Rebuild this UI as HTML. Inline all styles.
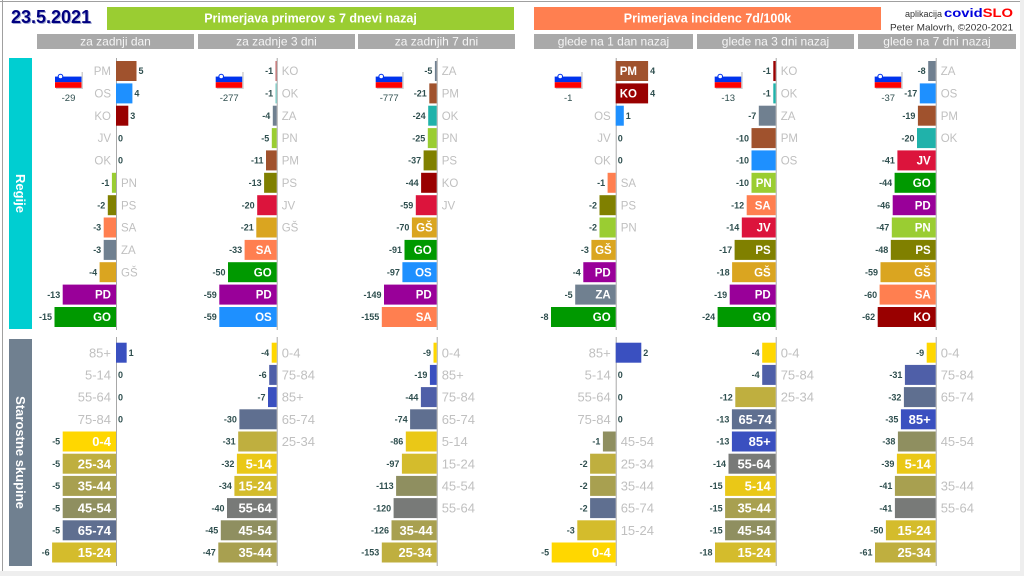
<!DOCTYPE html>
<html><head><meta charset="utf-8">
<style>
html,body{margin:0;padding:0;background:#fff;}
svg{display:block;font-family:"Liberation Sans",sans-serif;}
.v{font-size:9px;font-weight:bold;fill:#2F4F4F}
.g{font-size:11.5px;fill:#C0C0C0}
.w{font-size:11.5px;font-weight:bold;fill:#fff}
.ag{font-size:13px;fill:#C0C0C0}
.aw{font-size:13px;font-weight:bold;fill:#fff}
.e{text-anchor:end}
.t{font-size:9.5px;fill:#2F4F4F;text-anchor:middle}
.ax{stroke:#A8A8A8;stroke-width:1}
</style></head>
<body>
<svg width="1024" height="576" viewBox="0 0 1024 576" xmlns="http://www.w3.org/2000/svg">
<defs>
<g id="flag">
<rect x="-60" y="72" width="27" height="17" fill="#d0d0d0"/>
<rect x="-61" y="71" width="26.5" height="5.6" fill="#fff"/>
<rect x="-61" y="76.6" width="26.5" height="5.6" fill="#0033EE"/>
<rect x="-61" y="82.2" width="26.5" height="5.6" fill="#FF0000"/>
<circle cx="-55.5" cy="76.5" r="2.3" fill="#fff" stroke="#0033EE" stroke-width="1"/>
</g>
</defs>
<rect x="0" y="0" width="1024" height="576" fill="#fff"/>
<!-- borders -->
<rect x="1020" y="0" width="4" height="576" fill="#EEEEEE"/>
<rect x="0" y="571" width="1024" height="5" fill="#EEEEEE"/>
<line x1="0" y1="1.5" x2="1020" y2="1.5" stroke="#A0A0A0"/>
<line x1="2.5" y1="0" x2="2.5" y2="571" stroke="#A0A0A0"/>

<!-- header -->
<text x="12" y="24" font-size="18" font-weight="bold" fill="#A0A8D0">23.5.2021</text>
<text x="11" y="23" font-size="18" font-weight="bold" fill="#000080">23.5.2021</text>
<rect x="107" y="7" width="407" height="23" fill="#9ACD32"/>
<text x="310.5" y="22.5" font-size="12.5" font-weight="bold" fill="#fff" text-anchor="middle">Primerjava primerov s 7 dnevi nazaj</text>
<rect x="534" y="7" width="347" height="23" fill="#FF7F50"/>
<text x="707.5" y="22.5" font-size="12.5" font-weight="bold" fill="#fff" text-anchor="middle">Primerjava incidenc 7d/100k</text>
<text x="942" y="17" font-size="9" fill="#333" text-anchor="end">aplikacija</text>
<text x="944" y="17" font-size="12" font-weight="bold" textLength="69" lengthAdjust="spacingAndGlyphs"><tspan fill="#0000DD">covid</tspan><tspan fill="#FF0000">SLO</tspan></text>
<text x="890" y="30.5" font-size="9.5" fill="#333" textLength="123" lengthAdjust="spacingAndGlyphs">Peter Malovrh, ©2020-2021</text>

<rect x="37" y="34" width="157" height="15" fill="#A9A9A9"/>
<rect x="198" y="34" width="157" height="15" fill="#A9A9A9"/>
<rect x="358" y="34" width="157" height="15" fill="#A9A9A9"/>
<rect x="534" y="34" width="159" height="15" fill="#A9A9A9"/>
<rect x="697" y="34" width="157" height="15" fill="#A9A9A9"/>
<rect x="858" y="34" width="158" height="15" fill="#A9A9A9"/>
<g font-size="12" fill="#F5F5F5" text-anchor="middle">
<text x="115.5" y="45.5">za zadnji dan</text>
<text x="276.5" y="45.5">za zadnje 3 dni</text>
<text x="436.5" y="45.5">za zadnjih 7 dni</text>
<text x="613.5" y="45.5">glede na 1 dan nazaj</text>
<text x="775.5" y="45.5">glede na 3 dni nazaj</text>
<text x="937" y="45.5">glede na 7 dni nazaj</text>
</g>

<!-- sidebars -->
<rect x="9" y="58" width="23" height="271" fill="#00CED1"/>
<text transform="translate(20.5,193.5) rotate(90)" font-size="13" font-weight="bold" fill="#fff" text-anchor="middle" dy="4.5">Regije</text>
<rect x="9" y="339" width="23" height="227" fill="#708090"/>
<text transform="translate(20.5,452.5) rotate(90)" font-size="13" font-weight="bold" fill="#fff" text-anchor="middle" dy="4.5">Starostne skupine</text>

<!-- ===== PANEL 1 ===== -->
<g transform="translate(116,0)">
<line class="ax" x1="0.5" y1="58" x2="0.5" y2="330"/>
<line class="ax" x1="0.5" y1="337" x2="0.5" y2="566"/>
<use href="#flag"/>
<text class="t" x="-47.5" y="101">-29</text>
<rect x="0" y="61" width="20.5" height="20" fill="#A0522D"/><text class="v" x="22.5" y="74.2">5</text><text class="g e" x="-5" y="75.1">PM</text>
<rect x="0" y="83.4" width="16.4" height="20" fill="#1E90FF"/><text class="v" x="18.4" y="96.6">4</text><text class="g e" x="-5" y="97.5">OS</text>
<rect x="0" y="105.7" width="12.3" height="20" fill="#990000"/><text class="v" x="14.3" y="118.9">3</text><text class="g e" x="-5" y="119.8">KO</text>
<text class="v" x="2" y="141.3">0</text><text class="g e" x="-5" y="142.2">JV</text>
<text class="v" x="2" y="163.6">0</text><text class="g e" x="-5" y="164.5">OK</text>
<rect x="-4.1" y="172.8" width="4.1" height="20" fill="#9ACD32"/><text class="v e" x="-6.6" y="186">-1</text><text class="g" x="5" y="186.9">PN</text>
<rect x="-8.2" y="195.2" width="8.2" height="20" fill="#808000"/><text class="v e" x="-10.7" y="208.4">-2</text><text class="g" x="5" y="209.3">PS</text>
<rect x="-12.3" y="217.5" width="12.3" height="20" fill="#FF7F50"/><text class="v e" x="-14.8" y="230.7">-3</text><text class="g" x="5" y="231.6">SA</text>
<rect x="-12.3" y="239.9" width="12.3" height="20" fill="#708090"/><text class="v e" x="-14.8" y="253.1">-3</text><text class="g" x="5" y="254">ZA</text>
<rect x="-16.4" y="262.2" width="16.4" height="20" fill="#DAA520"/><text class="v e" x="-18.9" y="275.4">-4</text><text class="g" x="5" y="276.3">GŠ</text>
<rect x="-53.3" y="284.6" width="53.3" height="20" fill="#990099"/><text class="v e" x="-55.8" y="297.8">-13</text><text class="w e" x="-5" y="298.7">PD</text>
<rect x="-61.5" y="307" width="61.5" height="20" fill="#009900"/><text class="v e" x="-64" y="320.2">-15</text><text class="w e" x="-5" y="321.1">GO</text>
<!-- ages -->
<rect x="0" y="342.7" width="10.65" height="20" fill="#3A50C0"/><text class="v" x="12.6" y="355.9">1</text><text class="ag e" x="-5" y="357.3">85+</text>
<text class="v" x="2" y="378.1">0</text><text class="ag e" x="-5" y="379.5">5-14</text>
<text class="v" x="2" y="400.3">0</text><text class="ag e" x="-5" y="401.7">55-64</text>
<text class="v" x="2" y="422.5">0</text><text class="ag e" x="-5" y="423.9">75-84</text>
<rect x="-53.3" y="431.5" width="53.3" height="20" fill="#FFD700"/><text class="v e" x="-55.8" y="444.7">-5</text><text class="aw e" x="-5" y="446.1">0-4</text>
<rect x="-53.3" y="453.7" width="53.3" height="20" fill="#BFAF3F"/><text class="v e" x="-55.8" y="466.9">-5</text><text class="aw e" x="-5" y="468.3">25-34</text>
<rect x="-53.3" y="475.9" width="53.3" height="20" fill="#A8A050"/><text class="v e" x="-55.8" y="489.1">-5</text><text class="aw e" x="-5" y="490.5">35-44</text>
<rect x="-53.3" y="498.1" width="53.3" height="20" fill="#8F8F60"/><text class="v e" x="-55.8" y="511.3">-5</text><text class="aw e" x="-5" y="512.7">45-54</text>
<rect x="-53.3" y="520.3" width="53.3" height="20" fill="#5F6F90"/><text class="v e" x="-55.8" y="533.5">-5</text><text class="aw e" x="-5" y="534.9">65-74</text>
<rect x="-63.9" y="542.5" width="63.9" height="20" fill="#D4BC2C"/><text class="v e" x="-66.4" y="555.7">-6</text><text class="aw e" x="-5" y="557.1">15-24</text>
</g>

<!-- ===== PANEL 2 ===== -->
<g transform="translate(276.7,0)">
<line class="ax" x1="0.5" y1="58" x2="0.5" y2="330"/>
<line class="ax" x1="0.5" y1="337" x2="0.5" y2="566"/>
<use href="#flag"/>
<text class="t" x="-47.5" y="101">-277</text>
<rect x="-1.2" y="61" width="1.2" height="20" fill="#C06060"/><text class="v e" x="-3.5" y="74.2">-1</text><text class="g" x="5" y="75.1">KO</text>
<rect x="-1.2" y="83.4" width="1.2" height="20" fill="#70C8C0"/><text class="v e" x="-3.5" y="96.6">-1</text><text class="g" x="5" y="97.5">OK</text>
<rect x="-3.9" y="105.7" width="3.9" height="20" fill="#708090"/><text class="v e" x="-6.4" y="118.9">-4</text><text class="g" x="5" y="119.8">ZA</text>
<rect x="-4.9" y="128.1" width="4.9" height="20" fill="#9ACD32"/><text class="v e" x="-7.4" y="141.3">-5</text><text class="g" x="5" y="142.2">PN</text>
<rect x="-10.7" y="150.4" width="10.7" height="20" fill="#A0522D"/><text class="v e" x="-13.2" y="163.6">-11</text><text class="g" x="5" y="164.5">PM</text>
<rect x="-12.6" y="172.8" width="12.6" height="20" fill="#808000"/><text class="v e" x="-15.1" y="186">-13</text><text class="g" x="5" y="186.9">PS</text>
<rect x="-19.5" y="195.2" width="19.5" height="20" fill="#DC143C"/><text class="v e" x="-22" y="208.4">-20</text><text class="g" x="5" y="209.3">JV</text>
<rect x="-20.4" y="217.5" width="20.4" height="20" fill="#DAA520"/><text class="v e" x="-22.9" y="230.7">-21</text><text class="g" x="5" y="231.6">GŠ</text>
<rect x="-32.1" y="239.9" width="32.1" height="20" fill="#FF7F50"/><text class="v e" x="-34.6" y="253.1">-33</text><text class="w e" x="-5" y="254">SA</text>
<rect x="-48.7" y="262.2" width="48.7" height="20" fill="#009900"/><text class="v e" x="-51.2" y="275.4">-50</text><text class="w e" x="-5" y="276.3">GO</text>
<rect x="-57.4" y="284.6" width="57.4" height="20" fill="#990099"/><text class="v e" x="-59.9" y="297.8">-59</text><text class="w e" x="-5" y="298.7">PD</text>
<rect x="-57.4" y="307" width="57.4" height="20" fill="#1E90FF"/><text class="v e" x="-59.9" y="320.2">-59</text><text class="w e" x="-5" y="321.1">OS</text>
<!-- ages -->
<rect x="-5" y="342.7" width="5" height="20" fill="#FFD700"/><text class="v e" x="-7.5" y="355.9">-4</text><text class="ag" x="5" y="357.3">0-4</text>
<rect x="-7.5" y="364.9" width="7.5" height="20" fill="#4F5FA8"/><text class="v e" x="-10" y="378.1">-6</text><text class="ag" x="5" y="379.5">75-84</text>
<rect x="-8.7" y="387.1" width="8.7" height="20" fill="#3A50C0"/><text class="v e" x="-11.2" y="400.3">-7</text><text class="ag" x="5" y="401.7">85+</text>
<rect x="-37.3" y="409.3" width="37.3" height="20" fill="#5F6F90"/><text class="v e" x="-39.8" y="422.5">-30</text><text class="ag" x="5" y="423.9">65-74</text>
<rect x="-38.5" y="431.5" width="38.5" height="20" fill="#BFAF3F"/><text class="v e" x="-41" y="444.7">-31</text><text class="ag" x="5" y="446.1">25-34</text>
<rect x="-39.8" y="453.7" width="39.8" height="20" fill="#EAC817"/><text class="v e" x="-42.3" y="466.9">-32</text><text class="aw e" x="-5" y="468.3">5-14</text>
<rect x="-42.3" y="475.9" width="42.3" height="20" fill="#D4BC2C"/><text class="v e" x="-44.8" y="489.1">-34</text><text class="aw e" x="-5" y="490.5">15-24</text>
<rect x="-49.7" y="498.1" width="49.7" height="20" fill="#787A78"/><text class="v e" x="-52.2" y="511.3">-40</text><text class="aw e" x="-5" y="512.7">55-64</text>
<rect x="-55.9" y="520.3" width="55.9" height="20" fill="#8F8F60"/><text class="v e" x="-58.4" y="533.5">-45</text><text class="aw e" x="-5" y="534.9">45-54</text>
<rect x="-58.4" y="542.5" width="58.4" height="20" fill="#A8A050"/><text class="v e" x="-60.9" y="555.7">-47</text><text class="aw e" x="-5" y="557.1">35-44</text>
</g>

<!-- ===== PANEL 3 ===== -->
<g transform="translate(436.7,0)">
<line class="ax" x1="0.5" y1="58" x2="0.5" y2="330"/>
<line class="ax" x1="0.5" y1="337" x2="0.5" y2="566"/>
<use href="#flag"/>
<text class="t" x="-47.5" y="101">-777</text>
<rect x="-1.8" y="61" width="1.8" height="20" fill="#708090"/><text class="v e" x="-4.3" y="74.2">-5</text><text class="g" x="5" y="75.1">ZA</text>
<rect x="-7.4" y="83.4" width="7.4" height="20" fill="#A0522D"/><text class="v e" x="-9.9" y="96.6">-21</text><text class="g" x="5" y="97.5">PM</text>
<rect x="-8.5" y="105.7" width="8.5" height="20" fill="#20B2AA"/><text class="v e" x="-11" y="118.9">-24</text><text class="g" x="5" y="119.8">OK</text>
<rect x="-8.9" y="128.1" width="8.9" height="20" fill="#9ACD32"/><text class="v e" x="-11.4" y="141.3">-25</text><text class="g" x="5" y="142.2">PN</text>
<rect x="-13.1" y="150.4" width="13.1" height="20" fill="#808000"/><text class="v e" x="-15.6" y="163.6">-37</text><text class="g" x="5" y="164.5">PS</text>
<rect x="-15.6" y="172.8" width="15.6" height="20" fill="#990000"/><text class="v e" x="-18.1" y="186">-44</text><text class="g" x="5" y="186.9">KO</text>
<rect x="-20.9" y="195.2" width="20.9" height="20" fill="#DC143C"/><text class="v e" x="-23.4" y="208.4">-59</text><text class="g" x="5" y="209.3">JV</text>
<rect x="-24.8" y="217.5" width="24.8" height="20" fill="#DAA520"/><text class="v e" x="-27.3" y="230.7">-70</text><text class="w e" x="-4" y="231.6">GŠ</text>
<rect x="-32.2" y="239.9" width="32.2" height="20" fill="#009900"/><text class="v e" x="-34.7" y="253.1">-91</text><text class="w e" x="-5" y="254">GO</text>
<rect x="-34.3" y="262.2" width="34.3" height="20" fill="#1E90FF"/><text class="v e" x="-36.8" y="275.4">-97</text><text class="w e" x="-5" y="276.3">OS</text>
<rect x="-52.7" y="284.6" width="52.7" height="20" fill="#990099"/><text class="v e" x="-55.2" y="297.8">-149</text><text class="w e" x="-5" y="298.7">PD</text>
<rect x="-54.9" y="307" width="54.9" height="20" fill="#FF7F50"/><text class="v e" x="-57.4" y="320.2">-155</text><text class="w e" x="-5" y="321.1">SA</text>
<!-- ages -->
<rect x="-3.2" y="342.7" width="3.2" height="20" fill="#FFD700"/><text class="v e" x="-5.7" y="355.9">-9</text><text class="ag" x="5" y="357.3">0-4</text>
<rect x="-6.8" y="364.9" width="6.8" height="20" fill="#3A50C0"/><text class="v e" x="-9.3" y="378.1">-19</text><text class="ag" x="5" y="379.5">85+</text>
<rect x="-15.8" y="387.1" width="15.8" height="20" fill="#4F5FA8"/><text class="v e" x="-18.3" y="400.3">-44</text><text class="ag" x="5" y="401.7">75-84</text>
<rect x="-26.6" y="409.3" width="26.6" height="20" fill="#5F6F90"/><text class="v e" x="-29.1" y="422.5">-74</text><text class="ag" x="5" y="423.9">65-74</text>
<rect x="-30.9" y="431.5" width="30.9" height="20" fill="#EAC817"/><text class="v e" x="-33.4" y="444.7">-86</text><text class="ag" x="5" y="446.1">5-14</text>
<rect x="-34.8" y="453.7" width="34.8" height="20" fill="#D4BC2C"/><text class="v e" x="-37.3" y="466.9">-97</text><text class="ag" x="5" y="468.3">15-24</text>
<rect x="-40.6" y="475.9" width="40.6" height="20" fill="#8F8F60"/><text class="v e" x="-43.1" y="489.1">-113</text><text class="ag" x="5" y="490.5">45-54</text>
<rect x="-43.1" y="498.1" width="43.1" height="20" fill="#787A78"/><text class="v e" x="-45.6" y="511.3">-120</text><text class="ag" x="5" y="512.7">55-64</text>
<rect x="-45.2" y="520.3" width="45.2" height="20" fill="#A8A050"/><text class="v e" x="-47.7" y="533.5">-126</text><text class="aw e" x="-4" y="534.9">35-44</text>
<rect x="-54.9" y="542.5" width="54.9" height="20" fill="#BFAF3F"/><text class="v e" x="-57.4" y="555.7">-153</text><text class="aw e" x="-5" y="557.1">25-34</text>
</g>

<!-- ===== PANEL 4 ===== -->
<g transform="translate(615.7,0)">
<line class="ax" x1="0.5" y1="58" x2="0.5" y2="330"/>
<line class="ax" x1="0.5" y1="337" x2="0.5" y2="566"/>
<use href="#flag"/>
<text class="t" x="-47.5" y="101">-1</text>
<rect x="0" y="61" width="32.4" height="20" fill="#A0522D"/><text class="v" x="34.4" y="74.2">4</text><text class="w" x="4" y="75.1">PM</text>
<rect x="0" y="83.4" width="32.4" height="20" fill="#990000"/><text class="v" x="34.4" y="96.6">4</text><text class="w" x="4" y="97.5">KO</text>
<rect x="0" y="105.7" width="8.1" height="20" fill="#1E90FF"/><text class="v" x="10.1" y="118.9">1</text><text class="g e" x="-5" y="119.8">OS</text>
<text class="v" x="2" y="141.3">0</text><text class="g e" x="-5" y="142.2">JV</text>
<text class="v" x="2" y="163.6">0</text><text class="g e" x="-5" y="164.5">OK</text>
<rect x="-8.1" y="172.8" width="8.1" height="20" fill="#FF7F50"/><text class="v e" x="-10.6" y="186">-1</text><text class="g" x="5" y="186.9">SA</text>
<rect x="-16.2" y="195.2" width="16.2" height="20" fill="#808000"/><text class="v e" x="-18.7" y="208.4">-2</text><text class="g" x="5" y="209.3">PS</text>
<rect x="-16.2" y="217.5" width="16.2" height="20" fill="#9ACD32"/><text class="v e" x="-18.7" y="230.7">-2</text><text class="g" x="5" y="231.6">PN</text>
<rect x="-24.3" y="239.9" width="24.3" height="20" fill="#DAA520"/><text class="v e" x="-26.8" y="253.1">-3</text><text class="w e" x="-4" y="254">GŠ</text>
<rect x="-32.4" y="262.2" width="32.4" height="20" fill="#990099"/><text class="v e" x="-34.9" y="275.4">-4</text><text class="w e" x="-5" y="276.3">PD</text>
<rect x="-40.5" y="284.6" width="40.5" height="20" fill="#708090"/><text class="v e" x="-43" y="297.8">-5</text><text class="w e" x="-5" y="298.7">ZA</text>
<rect x="-64.7" y="307" width="64.7" height="20" fill="#009900"/><text class="v e" x="-67.2" y="320.2">-8</text><text class="w e" x="-5" y="321.1">GO</text>
<!-- ages -->
<rect x="0" y="342.7" width="25.6" height="20" fill="#3A50C0"/><text class="v" x="27.6" y="355.9">2</text><text class="ag e" x="-5" y="357.3">85+</text>
<text class="v" x="2" y="378.1">0</text><text class="ag e" x="-5" y="379.5">5-14</text>
<text class="v" x="2" y="400.3">0</text><text class="ag e" x="-5" y="401.7">55-64</text>
<text class="v" x="2" y="422.5">0</text><text class="ag e" x="-5" y="423.9">75-84</text>
<rect x="-12.8" y="431.5" width="12.8" height="20" fill="#8F8F60"/><text class="v e" x="-15.3" y="444.7">-1</text><text class="ag" x="5" y="446.1">45-54</text>
<rect x="-25.6" y="453.7" width="25.6" height="20" fill="#BFAF3F"/><text class="v e" x="-28.1" y="466.9">-2</text><text class="ag" x="5" y="468.3">25-34</text>
<rect x="-25.6" y="475.9" width="25.6" height="20" fill="#A8A050"/><text class="v e" x="-28.1" y="489.1">-2</text><text class="ag" x="5" y="490.5">35-44</text>
<rect x="-25.6" y="498.1" width="25.6" height="20" fill="#5F6F90"/><text class="v e" x="-28.1" y="511.3">-2</text><text class="ag" x="5" y="512.7">65-74</text>
<rect x="-38.4" y="520.3" width="38.4" height="20" fill="#D4BC2C"/><text class="v e" x="-40.9" y="533.5">-3</text><text class="ag" x="5" y="534.9">15-24</text>
<rect x="-64" y="542.5" width="64" height="20" fill="#FFD700"/><text class="v e" x="-66.5" y="555.7">-5</text><text class="aw e" x="-5" y="557.1">0-4</text>
</g>

<!-- ===== PANEL 5 ===== -->
<g transform="translate(775.7,0)">
<line class="ax" x1="0.5" y1="58" x2="0.5" y2="330"/>
<line class="ax" x1="0.5" y1="337" x2="0.5" y2="566"/>
<use href="#flag"/>
<text class="t" x="-47.5" y="101">-13</text>
<rect x="-2.4" y="61" width="2.4" height="20" fill="#990000"/><text class="v e" x="-4.9" y="74.2">-1</text><text class="g" x="5" y="75.1">KO</text>
<rect x="-2.4" y="83.4" width="2.4" height="20" fill="#20B2AA"/><text class="v e" x="-4.9" y="96.6">-1</text><text class="g" x="5" y="97.5">OK</text>
<rect x="-16.9" y="105.7" width="16.9" height="20" fill="#708090"/><text class="v e" x="-19.4" y="118.9">-7</text><text class="g" x="5" y="119.8">ZA</text>
<rect x="-24.2" y="128.1" width="24.2" height="20" fill="#A0522D"/><text class="v e" x="-26.7" y="141.3">-10</text><text class="g" x="5" y="142.2">PM</text>
<rect x="-24.2" y="150.4" width="24.2" height="20" fill="#1E90FF"/><text class="v e" x="-26.7" y="163.6">-10</text><text class="g" x="5" y="164.5">OS</text>
<rect x="-24.2" y="172.8" width="24.2" height="20" fill="#9ACD32"/><text class="v e" x="-26.7" y="186">-10</text><text class="w e" x="-4" y="186.9">PN</text>
<rect x="-29" y="195.2" width="29" height="20" fill="#FF7F50"/><text class="v e" x="-31.5" y="208.4">-12</text><text class="w e" x="-5" y="209.3">SA</text>
<rect x="-33.9" y="217.5" width="33.9" height="20" fill="#DC143C"/><text class="v e" x="-36.4" y="230.7">-14</text><text class="w e" x="-5" y="231.6">JV</text>
<rect x="-41.1" y="239.9" width="41.1" height="20" fill="#808000"/><text class="v e" x="-43.6" y="253.1">-17</text><text class="w e" x="-5" y="254">PS</text>
<rect x="-43.6" y="262.2" width="43.6" height="20" fill="#DAA520"/><text class="v e" x="-46.1" y="275.4">-18</text><text class="w e" x="-5" y="276.3">GŠ</text>
<rect x="-46" y="284.6" width="46" height="20" fill="#990099"/><text class="v e" x="-48.5" y="297.8">-19</text><text class="w e" x="-5" y="298.7">PD</text>
<rect x="-58.1" y="307" width="58.1" height="20" fill="#009900"/><text class="v e" x="-60.6" y="320.2">-24</text><text class="w e" x="-5" y="321.1">GO</text>
<!-- ages -->
<rect x="-13.5" y="342.7" width="13.5" height="20" fill="#FFD700"/><text class="v e" x="-16" y="355.9">-4</text><text class="ag" x="5" y="357.3">0-4</text>
<rect x="-13.5" y="364.9" width="13.5" height="20" fill="#4F5FA8"/><text class="v e" x="-16" y="378.1">-4</text><text class="ag" x="5" y="379.5">75-84</text>
<rect x="-40.4" y="387.1" width="40.4" height="20" fill="#BFAF3F"/><text class="v e" x="-42.9" y="400.3">-12</text><text class="ag" x="5" y="401.7">25-34</text>
<rect x="-43.8" y="409.3" width="43.8" height="20" fill="#5F6F90"/><text class="v e" x="-46.3" y="422.5">-13</text><text class="aw e" x="-4" y="423.9">65-74</text>
<rect x="-43.8" y="431.5" width="43.8" height="20" fill="#3A50C0"/><text class="v e" x="-46.3" y="444.7">-13</text><text class="aw e" x="-5" y="446.1">85+</text>
<rect x="-47.2" y="453.7" width="47.2" height="20" fill="#787A78"/><text class="v e" x="-49.7" y="466.9">-14</text><text class="aw e" x="-5" y="468.3">55-64</text>
<rect x="-50.6" y="475.9" width="50.6" height="20" fill="#EAC817"/><text class="v e" x="-53.1" y="489.1">-15</text><text class="aw e" x="-5" y="490.5">5-14</text>
<rect x="-50.6" y="498.1" width="50.6" height="20" fill="#A8A050"/><text class="v e" x="-53.1" y="511.3">-15</text><text class="aw e" x="-5" y="512.7">35-44</text>
<rect x="-50.6" y="520.3" width="50.6" height="20" fill="#8F8F60"/><text class="v e" x="-53.1" y="533.5">-15</text><text class="aw e" x="-5" y="534.9">45-54</text>
<rect x="-60.7" y="542.5" width="60.7" height="20" fill="#D4BC2C"/><text class="v e" x="-63.2" y="555.7">-18</text><text class="aw e" x="-5" y="557.1">15-24</text>
</g>

<!-- ===== PANEL 6 ===== -->
<g transform="translate(935.7,0)">
<line class="ax" x1="0.5" y1="58" x2="0.5" y2="330"/>
<line class="ax" x1="0.5" y1="337" x2="0.5" y2="566"/>
<use href="#flag"/>
<text class="t" x="-47.5" y="101">-37</text>
<rect x="-7.5" y="61" width="7.5" height="20" fill="#708090"/><text class="v e" x="-10" y="74.2">-8</text><text class="g" x="5" y="75.1">ZA</text>
<rect x="-15.9" y="83.4" width="15.9" height="20" fill="#1E90FF"/><text class="v e" x="-18.4" y="96.6">-17</text><text class="g" x="5" y="97.5">OS</text>
<rect x="-17.8" y="105.7" width="17.8" height="20" fill="#A0522D"/><text class="v e" x="-20.3" y="118.9">-19</text><text class="g" x="5" y="119.8">PM</text>
<rect x="-18.7" y="128.1" width="18.7" height="20" fill="#20B2AA"/><text class="v e" x="-21.2" y="141.3">-20</text><text class="g" x="5" y="142.2">OK</text>
<rect x="-38.3" y="150.4" width="38.3" height="20" fill="#DC143C"/><text class="v e" x="-40.8" y="163.6">-41</text><text class="w e" x="-5" y="164.5">JV</text>
<rect x="-41.1" y="172.8" width="41.1" height="20" fill="#009900"/><text class="v e" x="-43.6" y="186">-44</text><text class="w e" x="-5" y="186.9">GO</text>
<rect x="-43" y="195.2" width="43" height="20" fill="#990099"/><text class="v e" x="-45.5" y="208.4">-46</text><text class="w e" x="-5" y="209.3">PD</text>
<rect x="-43.9" y="217.5" width="43.9" height="20" fill="#9ACD32"/><text class="v e" x="-46.4" y="230.7">-47</text><text class="w e" x="-5" y="231.6">PN</text>
<rect x="-44.9" y="239.9" width="44.9" height="20" fill="#808000"/><text class="v e" x="-47.4" y="253.1">-48</text><text class="w e" x="-5" y="254">PS</text>
<rect x="-55.2" y="262.2" width="55.2" height="20" fill="#DAA520"/><text class="v e" x="-57.7" y="275.4">-59</text><text class="w e" x="-5" y="276.3">GŠ</text>
<rect x="-56.1" y="284.6" width="56.1" height="20" fill="#FF7F50"/><text class="v e" x="-58.6" y="297.8">-60</text><text class="w e" x="-5" y="298.7">SA</text>
<rect x="-58" y="307" width="58" height="20" fill="#990000"/><text class="v e" x="-60.5" y="320.2">-62</text><text class="w e" x="-5" y="321.1">KO</text>
<!-- ages -->
<rect x="-9" y="342.7" width="9" height="20" fill="#FFD700"/><text class="v e" x="-11.5" y="355.9">-9</text><text class="ag" x="5" y="357.3">0-4</text>
<rect x="-30.8" y="364.9" width="30.8" height="20" fill="#4F5FA8"/><text class="v e" x="-33.3" y="378.1">-31</text><text class="ag" x="5" y="379.5">75-84</text>
<rect x="-31.8" y="387.1" width="31.8" height="20" fill="#5F6F90"/><text class="v e" x="-34.3" y="400.3">-32</text><text class="ag" x="5" y="401.7">65-74</text>
<rect x="-34.8" y="409.3" width="34.8" height="20" fill="#3A50C0"/><text class="v e" x="-37.3" y="422.5">-35</text><text class="aw e" x="-5" y="423.9">85+</text>
<rect x="-37.8" y="431.5" width="37.8" height="20" fill="#8F8F60"/><text class="v e" x="-40.3" y="444.7">-38</text><text class="ag" x="5" y="446.1">45-54</text>
<rect x="-38.8" y="453.7" width="38.8" height="20" fill="#EAC817"/><text class="v e" x="-41.3" y="466.9">-39</text><text class="aw e" x="-5" y="468.3">5-14</text>
<rect x="-40.8" y="475.9" width="40.8" height="20" fill="#A8A050"/><text class="v e" x="-43.3" y="489.1">-41</text><text class="ag" x="5" y="490.5">35-44</text>
<rect x="-40.8" y="498.1" width="40.8" height="20" fill="#787A78"/><text class="v e" x="-43.3" y="511.3">-41</text><text class="ag" x="5" y="512.7">55-64</text>
<rect x="-49.8" y="520.3" width="49.8" height="20" fill="#D4BC2C"/><text class="v e" x="-52.3" y="533.5">-50</text><text class="aw e" x="-5" y="534.9">15-24</text>
<rect x="-60.7" y="542.5" width="60.7" height="20" fill="#BFAF3F"/><text class="v e" x="-63.2" y="555.7">-61</text><text class="aw e" x="-5" y="557.1">25-34</text>
</g>
</svg>
</body></html>
